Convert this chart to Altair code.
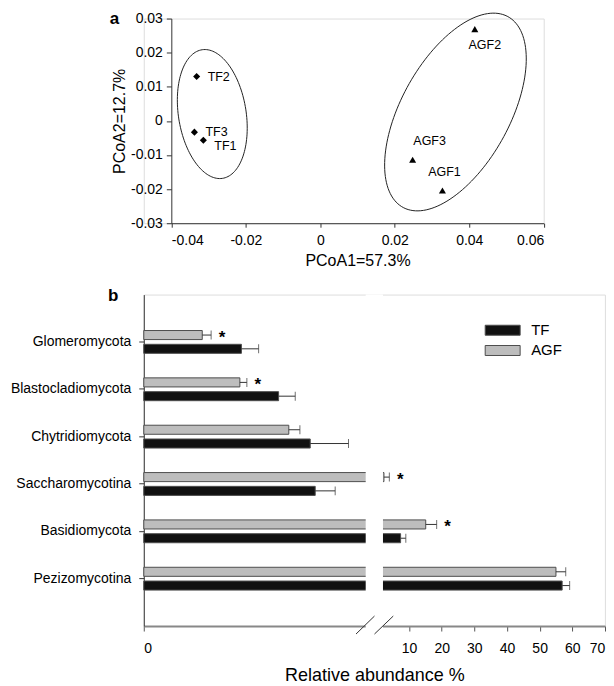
import numpy as np
import pandas as pd
import altair as alt

# ---------------- panel a : PCoA ----------------
samples = ["TF1", "TF2", "TF3", "AGF1", "AGF2", "AGF3"]
sample_groups = ["TF", "TF", "TF", "AGF", "AGF", "AGF"]
pcoa1 = [-0.0314, -0.0332, -0.0338, 0.0328, 0.0415, 0.0248]
pcoa2 = [-0.0057, 0.0130, -0.0033, -0.0204, 0.0269, -0.0114]

ellipse_groups = ["TF", "AGF"]
ellipse_cx = [-0.0290, 0.0363]
ellipse_cy = [0.0020, 0.0026]
ellipse_a_px = [67.3, 111.8]
ellipse_b_px = [33.9, 54.7]
ellipse_angle = [98.6, 62.4]

x_ticks_a = [-0.04, -0.02, 0, 0.02, 0.04, 0.06]
y_ticks_a = [-0.03, -0.02, -0.01, 0, 0.01, 0.02, 0.03]

# ---------------- panel b : relative abundance ----------------
phyla = ["Glomeromycota", "Blastocladiomycota", "Chytridiomycota",
         "Saccharomycotina", "Basidiomycota", "Pezizomycotina"]
tf_mean = [0.88, 1.215, 1.50, 1.545, 7.4, 56.9]
tf_err = [0.155, 0.15, 0.345, 0.18, 1.6, 2.3]
agf_mean = [0.527, 0.866, 1.307, 2.3, 15.1, 55.0]
agf_err = [0.08, 0.063, 0.10, 1.65, 3.35, 3.0]
agf_significant = [True, True, False, True, True, False]
x_ticks_b = [0, 10, 20, 30, 40, 50, 60, 70]

BREAK = 2.0
EPS = 1e-6
XMAX = 70
FONT = "Liberation Sans"

A_OFF = 27.6            # panel a plot starts this far right of panel b plot
W_A, H_A = 373, 205
W_B, H_B = 461.9, 332
SEG1, SEG2 = 222.3, 239.6   # pixel end of left segment / start of right segment

# ---- tables ----
pts = pd.DataFrame({"sample": samples, "group": sample_groups, "x": pcoa1, "y": pcoa2})

REF_SX = 373 / 0.10
REF_SY = 211.7 / 0.06
t = np.linspace(0, 2 * np.pi, 145)
ell_rows = []
for g, cx, cy, a, b, ang in zip(ellipse_groups, ellipse_cx, ellipse_cy,
                                ellipse_a_px, ellipse_b_px, ellipse_angle):
    th = np.deg2rad(ang)
    px = a * np.cos(t) * np.cos(th) - b * np.sin(t) * np.sin(th)
    py = a * np.cos(t) * np.sin(th) + b * np.sin(t) * np.cos(th)
    for i, (u, v) in enumerate(zip(px, py)):
        ell_rows.append({"grp": g, "i": i, "x": cx + u / REF_SX, "y": cy + v / REF_SY})
ell = pd.DataFrame(ell_rows)

rows = []
for i, p in enumerate(phyla):
    rows.append({"category": p, "group": "TF", "value": tf_mean[i], "err": tf_err[i], "sig": False})
    rows.append({"category": p, "group": "AGF", "value": agf_mean[i], "err": agf_err[i],
                 "sig": agf_significant[i]})
bars = pd.DataFrame(rows)

# ---------------- panel a chart ----------------
fmt_expr = ("datum.value == 0 ? '0' : (datum.value < 0 ? '-' : '') + "
            "format(abs(datum.value), '.2f')")

xa = alt.X("x:Q", scale=alt.Scale(domain=[-0.04, 0.06], range=[A_OFF, A_OFF + W_A],
                                  nice=False, zero=False),
           axis=alt.Axis(values=x_ticks_a, labelExpr=fmt_expr, title="PCoA1=57.3%",
                         grid=False, tickSize=4, labelPadding=6, titlePadding=5,
                         domainColor="#333", tickColor="#333"))
ya = alt.Y("y:Q", scale=alt.Scale(domain=[-0.03, 0.03], nice=False, zero=False),
           axis=alt.Axis(values=y_ticks_a, labelExpr=fmt_expr, title="PCoA2=12.7%",
                         grid=False, tickSize=5, labelPadding=4, titlePadding=3,
                         offset=-A_OFF, domainColor="#333", tickColor="#333"))

ellipses = alt.Chart(ell).mark_line(color="#222", strokeWidth=1).encode(
    x=xa, y=ya, detail="grp:N", order="i:Q")

points = alt.Chart(pts).mark_point(filled=True, opacity=1, color="black", size=50).encode(
    x=xa, y=ya,
    shape=alt.Shape("group:N", scale=alt.Scale(domain=["TF", "AGF"],
                                               range=["diamond", "triangle-up"]), legend=None))

label_style = {
    "TF1": (11, 6, "left"), "TF2": (11, 0, "left"), "TF3": (11, 0, "left"),
    "AGF1": (2, -18, "center"), "AGF2": (10, 16, "center"), "AGF3": (17, -19, "center"),
}
label_layers = []
for s in samples:
    dx, dy, al = label_style[s]
    label_layers.append(
        alt.Chart(pts).transform_filter(alt.datum.sample == s)
        .mark_text(fontSize=12.5, dx=dx, dy=dy, align=al, baseline="middle", color="black")
        .encode(x=xa, y=ya, text="sample:N"))

letter_a = alt.Chart(pd.DataFrame({"t": ["a"]})).mark_text(
    fontSize=17, fontWeight="bold", align="center", baseline="middle").encode(
    text="t:N", x=alt.value(A_OFF - 57), y=alt.value(0))

panel_a = alt.layer(ellipses, points, *label_layers, letter_a).properties(
    width=A_OFF + W_A, height=H_A)

# ---------------- panel b chart (broken axis) ----------------
y_b = alt.Y("category:N", sort=phyla,
            scale=alt.Scale(domain=phyla, paddingInner=0, paddingOuter=0.5),
            axis=alt.Axis(title=None, tickSize=5, labelPadding=8, domainColor="#333",
                          tickColor="#333", labelFontSize=14))
yoff = alt.YOffset("group:N", sort=["AGF", "TF"],
                   scale=alt.Scale(domain=["AGF", "TF"], paddingInner=0.343, paddingOuter=0.89))
legend = alt.Legend(orient="none", legendX=352, legendY=28.2, title=None,
                    symbolType="M-3.5,-1H3.5V1H-3.5Z", symbolSize=100,
                    symbolStrokeColor="#4d4d4d", symbolStrokeWidth=1,
                    labelFontSize=15, labelOffset=21, rowPadding=4.3)
color = alt.Color("group:N", scale=alt.Scale(domain=["TF", "AGF"], range=["#111111", "#bdbdbd"]),
                  legend=legend)

x_b_scale = alt.Scale(domain=[0, BREAK, BREAK + EPS, XMAX], range=[0, SEG1, SEG2, W_B],
                      nice=False, zero=False)
x_b_axis = alt.Axis(values=x_ticks_b, title="Relative abundance %", titleFontSize=18,
                    titleX=231, titleY=50, titleBaseline="middle", titleAnchor="middle",
                    grid=False, tickSize=5, labelPadding=11, domainColor="#888",
                    domainWidth=2, tickColor="#555", labelFontSize=14)

def xb(field):
    return alt.X(field, scale=x_b_scale, axis=x_b_axis)

hi_expr = "datum.value + datum.err"

b_bars = alt.Chart(bars).transform_calculate(base="0").mark_bar(
    stroke="#4d4d4d", strokeWidth=1).encode(
    x=xb("value:Q"), x2="base:Q", y=y_b, yOffset=yoff, color=color)
b_err = alt.Chart(bars).transform_calculate(hi=hi_expr).mark_rule(
    color="#333", strokeWidth=1).encode(x=xb("value:Q"), x2="hi:Q", y=y_b, yOffset=yoff)
b_cap = alt.Chart(bars).transform_calculate(hi=hi_expr).mark_tick(
    color="#333", thickness=1, size=9).encode(x=xb("hi:Q"), y=y_b, yOffset=yoff)
b_star = alt.Chart(bars).transform_calculate(hi=hi_expr).transform_filter("datum.sig").mark_text(
    text="*", fontSize=17, fontWeight="bold", dx=11, dy=3, align="center",
    baseline="middle", color="black").encode(x=xb("hi:Q"), y=y_b, yOffset=yoff)

# white gap that cuts bars and axis line at the break
gap = alt.Chart(pd.DataFrame({"k": [0]})).mark_rect(color="white").encode(
    x=alt.datum(BREAK), x2=alt.datum(BREAK + EPS), y=alt.value(0), y2=alt.value(H_B + 4))

slash_src = pd.DataFrame({"k": [0]})
slash1 = alt.Chart(slash_src).mark_rule(color="#333", strokeWidth=1).encode(
    x=alt.value(SEG1 - 9.7), x2=alt.value(SEG1 + 8.8), y=alt.value(H_B + 8), y2=alt.value(H_B - 10))
slash2 = alt.Chart(slash_src).mark_rule(color="#333", strokeWidth=1).encode(
    x=alt.value(SEG1 + 8.8), x2=alt.value(SEG1 + 27.6), y=alt.value(H_B + 8), y2=alt.value(H_B - 10))
letter_b = alt.Chart(pd.DataFrame({"t": ["b"]})).mark_text(
    fontSize=17, fontWeight="bold", align="center", baseline="middle").encode(
    text="t:N", x=alt.value(-30.7), y=alt.value(1))

panel_b = alt.layer(b_bars, b_err, b_cap, b_star, gap, slash1, slash2, letter_b).properties(
    width=W_B, height=H_B)

chart = alt.vconcat(panel_a, panel_b, spacing=71.5, bounds="flush").resolve_scale(
    color="independent", shape="independent"
).properties(
    padding={"left": 1, "top": 0, "right": 0, "bottom": 0}
).configure_view(strokeWidth=0).configure(
    font=FONT
).configure_axis(
    labelFont=FONT, titleFont=FONT, labelFontSize=14, titleFontSize=16,
    titleFontWeight="normal", labelColor="black", titleColor="black"
).configure_legend(labelFont=FONT, labelColor="black").configure_text(font=FONT)

chart.save("out.html", embed_options={"renderer": "svg", "actions": False})
